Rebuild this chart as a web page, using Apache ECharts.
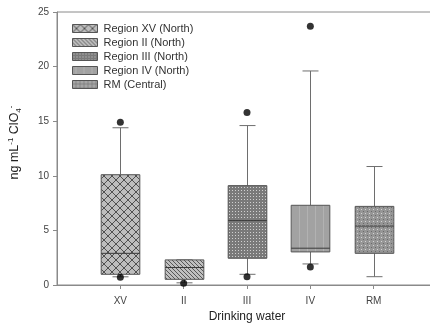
<!DOCTYPE html>
<html><head><meta charset="utf-8">
<script src="https://cdn.jsdelivr.net/npm/echarts@6/dist/echarts.min.js"></script>
<style>html,body{margin:0;padding:0;background:#fff}#c{width:430px;height:324px}</style>
</head><body><div id="c"></div>
<script>
const categories = ['XV', 'II', 'III', 'IV', 'RM'];
const seriesNames = ['Region XV (North)', 'Region II (North)', 'Region III (North)', 'Region IV (North)', 'RM (Central)'];
const whiskerLow  = [0.75, 0.2, 0.98, 1.93, 0.76];
const q1          = [0.98, 0.52, 2.45, 3.03, 2.9];
const median      = [2.9, 1.6, 5.9, 3.37, 5.4];
const q3          = [10.1, 2.3, 9.1, 7.3, 7.2];
const whiskerHigh = [14.4, 2.3, 14.6, 19.6, 10.85];
const outliers = [[0.7, 14.9], [0.15], [0.76, 15.8], [1.65, 23.7], []];
const yTicks = [0, 5, 10, 15, 20, 25];

const axisCats = [''].concat(categories, ['']);

function tile(size, draw) {
  const c = document.createElement('canvas');
  c.width = size; c.height = size;
  draw(c.getContext('2d'), size);
  return {image: c, repeat: 'repeat'};
}
const patterns = [
  tile(8, (g, s) => { g.fillStyle = '#bdbdbd'; g.fillRect(0,0,s,s); g.strokeStyle = '#505050'; g.lineWidth = 1;
    g.beginPath(); g.moveTo(0,0); g.lineTo(s,s); g.moveTo(s,0); g.lineTo(0,s); g.stroke(); }),
  tile(4, (g, s) => { g.fillStyle = '#c0c0c0'; g.fillRect(0,0,s,s); g.fillStyle = '#585858';
    for (let i = 0; i < s; i++) g.fillRect(i, i, 1, 1); }),
  tile(3, (g, s) => { g.fillStyle = '#7a7a7a'; g.fillRect(0,0,s,s); g.fillStyle = '#d0d0d0'; g.fillRect(1,1,1,1); }),
  tile(8, (g, s) => { g.fillStyle = '#a2a2a2'; g.fillRect(0,0,s,s); g.fillStyle = '#b2b2b2'; g.fillRect(3,0,1,s); }),
  tile(4, (g, s) => { g.fillStyle = '#969696'; g.fillRect(0,0,s,s); g.fillStyle = '#d4d4d4'; g.fillRect(1,1,1,1); g.fillStyle = '#6a6a6a'; g.fillRect(3,3,1,1); })
];

function makeRender(idx) {
  return function (params, api) {
    const x = api.value(0);
    const lo = api.coord([x, api.value(1)]);
    const b1 = api.coord([x, api.value(2)]);
    const md = api.coord([x, api.value(3)]);
    const b3 = api.coord([x, api.value(4)]);
    const hi = api.coord([x, api.value(5)]);
    const cx = Math.round(lo[0]) + 0.5;
    const w = api.size([1, 0])[0] * 0.61;
    const cw = 16;
    const wl = {stroke: '#6e6e6e', lineWidth: 1};
    return {type: 'group', children: [
      {type: 'line', shape: {x1: cx, y1: b3[1], x2: cx, y2: hi[1]}, style: wl},
      {type: 'line', shape: {x1: cx - cw/2, y1: hi[1], x2: cx + cw/2, y2: hi[1]}, style: wl},
      {type: 'line', shape: {x1: cx, y1: b1[1], x2: cx, y2: lo[1]}, style: wl},
      {type: 'line', shape: {x1: cx - cw/2, y1: lo[1], x2: cx + cw/2, y2: lo[1]}, style: wl},
      {type: 'rect', shape: {x: cx - w/2, y: b3[1], width: w, height: b1[1] - b3[1]},
        style: {fill: patterns[idx], stroke: '#555', lineWidth: 1}},
      {type: 'line', shape: {x1: cx - w/2, y1: md[1], x2: cx + w/2, y2: md[1]}, style: {stroke: '#3a3a3a', lineWidth: 1}}
    ]};
  };
}

const series = categories.map((c, i) => ({
  name: seriesNames[i], type: 'custom', renderItem: makeRender(i),
  itemStyle: {color: patterns[i], borderColor: '#555', borderWidth: 1},
  encode: {x: 0, y: [1, 2, 3, 4, 5]},
  data: [[i + 1, whiskerLow[i], q1[i], median[i], q3[i], whiskerHigh[i]]],
  z: 2
}));
const outData = [];
outliers.forEach((arr, i) => arr.forEach(v => outData.push([i + 1, v])));
series.push({name: 'outliers', type: 'scatter', data: outData, symbol: 'circle', symbolSize: 7,
  itemStyle: {color: '#000'}, z: 5, silent: true});

const chart = echarts.init(document.getElementById('c'), null, {renderer: 'canvas'});
chart.setOption({
  animation: false,
  textStyle: {fontFamily: 'Liberation Sans'},
  grid: {left: 57, width: 380, top: 12, height: 273, containLabel: false, outerBoundsMode: 'none',
    show: true, borderColor: '#8a8a8a', borderWidth: 1},
  legend: {
    data: seriesNames, orient: 'vertical', left: 72, top: 23, padding: 0, itemWidth: 25, itemHeight: 8, itemGap: 3,
    icon: 'rect',
    textStyle: {fontSize: 11, color: '#333', fontFamily: 'Liberation Sans', padding: [0, 0, 0, 1]},
    itemStyle: {borderColor: '#555', borderWidth: 1}, selectedMode: false
  },
  xAxis: {
    type: 'category', data: axisCats, boundaryGap: false,
    name: 'Drinking water', nameLocation: 'middle', nameGap: 26,
    nameTextStyle: {fontSize: 12, color: '#222'},
    axisLine: {lineStyle: {color: '#8a8a8a'}},
    axisTick: {length: 4, lineStyle: {color: '#8a8a8a'}, interval: (i) => i > 0 && i < axisCats.length - 1},
    axisLabel: {fontSize: 10, color: '#444', interval: 0, margin: 11},
    splitLine: {show: false}
  },
  yAxis: {
    type: 'value', min: yTicks[0], max: yTicks[yTicks.length - 1], interval: 5,
    name: 'ng mL{sup|-1} ClO{sub|4}{sup|-}', nameLocation: 'middle', nameGap: 34, nameRotate: 90,
    nameTextStyle: {fontSize: 12.5, color: '#222', padding: [0, 0, 0, 12], rich: {
      sup: {fontSize: 8, padding: [0, 0, 8, 0], color: '#222'},
      sub: {fontSize: 8, padding: [8, 0, 0, 0], color: '#222'}
    }},
    axisLine: {show: true, lineStyle: {color: '#8a8a8a'}},
    axisTick: {show: true, length: 4, lineStyle: {color: '#8a8a8a'}},
    axisLabel: {fontSize: 10, color: '#444', margin: 8},
    splitLine: {show: false}
  },
  series: series
});
</script></body></html>
